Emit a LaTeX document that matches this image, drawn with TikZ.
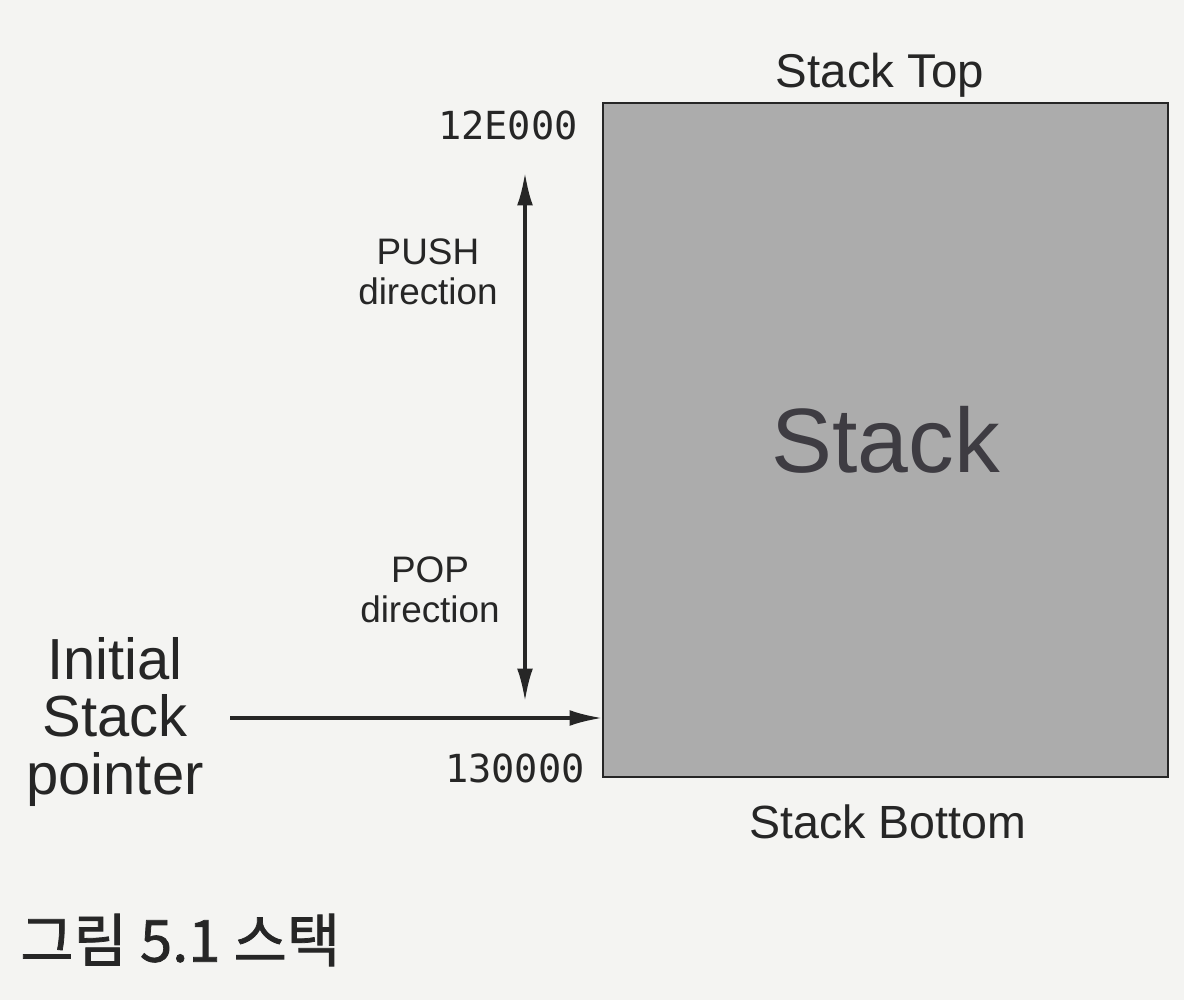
\documentclass[tikz,border=0pt]{standalone}
\usepackage{fontspec}
\setmainfont{Liberation Sans}
\setmonofont{DejaVu Sans Mono}
\newfontfamily\krfont[BoldFont={Noto Sans CJK KR}, BoldFeatures={FakeBold=1.3}]{Noto Sans CJK KR}
\usepackage{tikz}
\usetikzlibrary{arrows.meta}
\definecolor{paper}{RGB}{244,244,242}
\definecolor{stackgray}{RGB}{172,172,172}
\definecolor{inkdark}{RGB}{38,38,38}
\definecolor{stackink}{RGB}{62,60,66}
\tikzset{>={Latex[length=19pt,width=9pt]}}
\tikzset{
  lbl/.style={text=inkdark, inner sep=0pt, align=center},
  addr/.style={text=inkdark, inner sep=0pt, font=\ttfamily\fontsize{22}{24}\selectfont},
  dirarrow/.style={->, line width=2.2pt, draw=inkdark}
}

\begin{document}
\begin{tikzpicture}[x=0.02cm, y=-0.02cm]

\fill[paper] (0,0) rectangle (1184,1000);
\useasboundingbox (0,0) rectangle (1184,1000);

\node[draw=inkdark, line width=1.3pt, fill=stackgray, minimum width=11.3cm, minimum height=13.48cm,
      text=stackink, font=\fontsize{52}{56}\selectfont] (stack) at (885.5,440) {Stack};

\node[lbl, font=\fontsize{27}{30}\selectfont] (top) at (880,75) {Stack Top};
\node[lbl, font=\fontsize{26.5}{30}\selectfont] (bottom) at (888,822) {Stack Bottom};

\node[addr, anchor=east] (hiaddr) at (578,125) {12E000};
\node[addr, anchor=east] (loaddr) at (585,768) {130000};

\node[lbl, font=\fontsize{21}{23}\selectfont] (push) at (428,272) {PUSH\\direction};
\node[lbl, font=\fontsize{21}{23}\selectfont] (pop) at (430,590) {POP\\direction};
\node[lbl, font=\fontsize{33}{33}\selectfont] (ptr) at (115,722) {Initial\\Stack\\pointer};

\coordinate (pushend) at (525,172);
\coordinate (popend) at (525,702);
\coordinate (sp) at (603,718);

\draw[dirarrow, <->] (pushend) -- (popend);
\draw[dirarrow] (230,718) -- (sp);

\node[text=inkdark, inner sep=0pt, anchor=west, font=\krfont\bfseries\fontsize{33}{34}\selectfont] (caption) at (20,940) {그림 5.1 스택};

\end{tikzpicture}
\end{document}
